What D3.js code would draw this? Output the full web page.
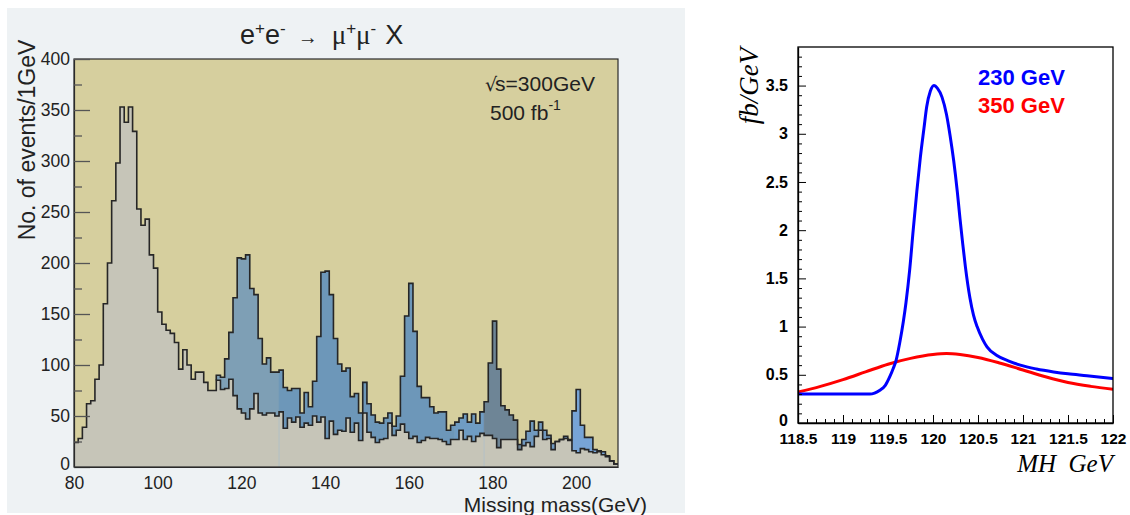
<!DOCTYPE html>
<html><head><meta charset="utf-8">
<script src="https://cdn.jsdelivr.net/npm/d3@7"></script>
<style>body{margin:0;background:#fff}svg{display:block}</style>
</head><body><svg id="c" width="1130" height="515" font-family="Liberation Sans, Arial, sans-serif"></svg>
<script>
// ---------- DATA ----------
// Left: missing-mass histogram, 1 GeV bins starting at 80 GeV
const massStart = 80;
const background = [
 24, 28, 39, 62, 65, 86,100,160,200,261,
298,353,338,353,329,253,237,243,208,195,
152,140,134,131,122, 96,115,100, 86, 93,
 93, 83, 75, 75, 85, 76, 77, 86, 70, 57,
 53, 47, 57, 72, 53, 51, 53, 53, 50, 54,
 38, 48, 44, 49, 39, 43, 41, 50, 44, 49,
 28, 45, 32, 36, 35, 48, 34, 43, 26, 53,
 34, 29, 24, 27, 28, 43, 31, 36, 42, 34,
 28, 30, 24, 26, 29, 28, 28, 27, 25, 22,
 27, 27, 36, 27, 30, 25, 30, 33, 31, 31,
 28, 19, 27, 27, 27, 27, 17, 21, 24, 20,
 30, 36, 27, 28, 17, 25, 27, 28, 26, 16,
 14, 18, 17, 15, 14, 15, 12, 10,  6,  3];
const signalStart = 114;
const signalPlusBkg = [
 90, 88,106,132,166,205,
204,208,175,169,126,101,107, 93, 93, 95,
 78, 75, 77, 77, 53, 73, 59, 84,128,191,
192,169,126,101, 94, 97, 69, 72, 53, 83,
 62, 51, 44, 43, 48, 53, 40, 50, 89,148,
180,133, 79, 68, 68, 59, 53, 54, 54, 36,
 41, 44, 48, 52, 44, 52, 43, 54, 64,102,
143, 96, 60, 56, 51, 46, 22, 27, 35, 45,
 36, 44, 36, 31, 23, 25, 27, 30, 27, 55,
 76, 41, 29, 29, 17, 16, 15, 11,  6,  3];
const seamEdges = [129, 178];
const massTicks = [80, 100, 120, 140, 160, 180, 200];
const eventTicks = [0, 50, 100, 150, 200, 250, 300, 350, 400];
const eventMinor = [25, 75, 125, 175, 225, 275, 325, 375];

// Right: lineshape vs MH
const mhTicks = [118.5, 119, 119.5, 120, 120.5, 121, 121.5, 122];
const fbTicks = [0, 0.5, 1, 1.5, 2, 2.5, 3, 3.5];
const curve230 = [
 [118.5,0.30],[119.0,0.30],[119.3,0.30],[119.35,0.31],[119.41,0.34],[119.47,0.39],
 [119.52,0.48],[119.56,0.57],[119.59,0.65],[119.63,0.83],[119.67,1.05],[119.70,1.25],
 [119.74,1.58],[119.78,2.0],[119.82,2.4],[119.86,2.76],[119.90,3.06],[119.93,3.28],
 [119.97,3.44],[120.01,3.5],[120.05,3.47],[120.10,3.38],[120.15,3.2],[120.19,2.98],
 [120.23,2.72],[120.27,2.4],[120.30,2.12],[120.33,1.86],[120.36,1.62],[120.41,1.3],
 [120.45,1.12],[120.49,1.0],[120.55,0.87],[120.60,0.79],[120.71,0.70],[120.85,0.64],
 [120.97,0.60],[121.15,0.56],[121.34,0.53],[121.5,0.51],[121.71,0.49],[122.0,0.46]];
const curve350 = [
 [118.5,0.32],[118.75,0.38],[119.0,0.45],[119.25,0.53],[119.5,0.61],[119.75,0.67],
 [120.0,0.71],[120.15,0.72],[120.3,0.71],[120.5,0.68],[120.75,0.62],[121.0,0.55],
 [121.25,0.48],[121.5,0.42],[121.75,0.38],[122.0,0.35]];
const legendLabels = ["230 GeV", "350 GeV"];

// ---------- DRAW ----------
const SANS = "Liberation Sans, Arial, sans-serif";
const SERIF = "Liberation Serif, Times New Roman, serif";
const svg = d3.select("#c");
svg.append("rect").attr("width",1130).attr("height",515).attr("fill","#fff");

// ===== Left panel =====
svg.append("rect").attr("x",7).attr("y",8).attr("width",678).attr("height",505).attr("fill","#eef2f4");
const xL = d3.scaleLinear().domain([80,210]).range([74,618]);
const yL = d3.scaleLinear().domain([0,400]).range([467,59]);
svg.append("rect").attr("x",xL(80)).attr("y",yL(400)).attr("width",xL(210)-xL(80)).attr("height",yL(0)-yL(400)).attr("fill","#d6cf9e");

const bkgPts = background.map((v,i)=>[massStart+i, v]);
bkgPts.push([massStart+background.length, background[background.length-1]]);
svg.append("path").datum(bkgPts)
  .attr("d", d3.area().curve(d3.curveStepAfter).x(d=>xL(d[0])).y0(yL(0)).y1(d=>yL(d[1])))
  .attr("fill","#c6c5b8");

seamEdges.forEach(m=>{
  svg.append("line").attr("x1",xL(m)).attr("x2",xL(m)).attr("y1",yL(0)).attr("y2",yL(background[m-massStart]))
    .attr("stroke","#b3c0c6").attr("stroke-width",1);
});

const sigColor = d3.scaleThreshold().domain([129,171,178,187,197])
  .range(["#7e9fb5","#6d97b9","#6f9cc3","#6e8596","#7199bf","#77a4d6"]);
const sig = signalPlusBkg.map((v,i)=>({m:signalStart+i, top:v, bot:background[signalStart+i-massStart]}));
const groups = d3.groups(sig, d=>sigColor(d.m));
groups.forEach(([col, arr])=>{
  const pts = arr.slice();
  const last = arr[arr.length-1];
  pts.push({m:last.m+1, top:last.top, bot:last.bot});
  svg.append("path").datum(pts)
    .attr("d", d3.area().curve(d3.curveStepAfter).x(d=>xL(d.m)).y0(d=>yL(d.bot)).y1(d=>yL(d.top)))
    .attr("fill", col).attr("stroke", col).attr("stroke-width",0.5);
});

const stepLine = d3.line().curve(d3.curveStepAfter).x(d=>xL(d[0])).y(d=>yL(d[1]));
svg.append("path").datum(bkgPts).attr("d", stepLine).attr("fill","none").attr("stroke","#262626").attr("stroke-width",1.6);
const totPts = [[signalStart, background[signalStart-massStart]]].concat(signalPlusBkg.map((v,i)=>[signalStart+i, v]));
totPts.push([signalStart+signalPlusBkg.length, signalPlusBkg[signalPlusBkg.length-1]]);
svg.append("path").datum(totPts).attr("d", stepLine).attr("fill","none").attr("stroke","#262626").attr("stroke-width",1.6);

svg.append("rect").attr("x",xL(80)).attr("y",yL(400)).attr("width",xL(210)-xL(80)).attr("height",yL(0)-yL(400))
  .attr("fill","none").attr("stroke","#2a2a2a").attr("stroke-width",1.2);

const yAxL = svg.append("g").attr("transform",`translate(${xL(80)},0)`)
  .call(d3.axisLeft(yL).tickValues(eventTicks).tickSize(-16).tickSizeOuter(0).tickPadding(4).tickFormat(d3.format("d")));
yAxL.selectAll(".tick line").attr("stroke","#555").attr("stroke-width",1.3);
yAxL.select(".domain").attr("stroke","#2a2a2a").attr("stroke-width",1.2);
yAxL.selectAll("text").attr("font-size",17.5).attr("fill","#222").attr("font-family",SANS);
yAxL.selectAll(".tick").filter(d=>d===0).select("text").attr("y",-3);
const yMinL = svg.append("g").attr("transform",`translate(${xL(80)},0)`)
  .call(d3.axisLeft(yL).tickValues(eventMinor).tickSize(-8).tickSizeOuter(0).tickFormat(""));
yMinL.selectAll(".tick line").attr("stroke","#555").attr("stroke-width",1.3);
yMinL.select(".domain").remove();

const xAxL = svg.append("g").attr("transform",`translate(0,${yL(0)})`)
  .call(d3.axisBottom(xL).tickValues(massTicks).tickSize(0).tickSizeOuter(0).tickPadding(10));
xAxL.select(".domain").attr("stroke","#2a2a2a").attr("stroke-width",1.2);
xAxL.selectAll("text").attr("font-size",17.5).attr("fill","#222").attr("font-family",SANS);

svg.append("text").attr("transform","translate(35,140) rotate(-90)").attr("text-anchor","middle")
  .attr("font-size",23).attr("fill","#222").text("No. of events/1GeV");
svg.append("text").attr("x",647).attr("y",512).attr("text-anchor","end")
  .attr("font-size",21).attr("fill","#222").text("Missing mass(GeV)");

// title e+e- -> mu+mu- X
const title = svg.append("text").attr("x",240).attr("y",44).attr("font-size",27).attr("fill","#222");
title.append("tspan").text("e");
title.append("tspan").attr("dy",-10).attr("font-size",17).text("+");
title.append("tspan").attr("dy",10).text("e");
title.append("tspan").attr("dy",-10).attr("font-size",17).text("-");
title.append("tspan").attr("dy",10).attr("font-size",20).attr("dx",12).text("→");
title.append("tspan").attr("dx",14).attr("font-family",SERIF).text("μ");
title.append("tspan").attr("dy",-10).attr("font-size",17).text("+");
title.append("tspan").attr("dy",10).attr("font-family",SERIF).text("μ");
title.append("tspan").attr("dy",-10).attr("font-size",17).text("-");
title.append("tspan").attr("dy",10).attr("dx",9).text("X");

const ann = svg.append("text").attr("x",485).attr("y",91).attr("font-size",21).attr("fill","#222");
ann.append("tspan").attr("font-family","DejaVu Sans, sans-serif").attr("font-size",19).text("√");
ann.append("tspan").attr("dx",-2).text("s=300GeV");
const ann2 = svg.append("text").attr("x",490).attr("y",120).attr("font-size",21).attr("fill","#222");
ann2.append("tspan").text("500 fb");
ann2.append("tspan").attr("dy",-10).attr("font-size",14).text("-1");

// ===== Right panel =====
const xR = d3.scaleLinear().domain([118.5,122]).range([798,1113]);
const yR = d3.scaleLinear().domain([0,3.9]).range([423,47]);
svg.append("defs").append("clipPath").attr("id","clipR").append("rect")
  .attr("x",xR(118.5)).attr("y",yR(3.9)).attr("width",xR(122)-xR(118.5)).attr("height",yR(0)-yR(3.9));

const line = d3.line().curve(d3.curveMonotoneX).x(d=>xR(d[0])).y(d=>yR(d[1]));
const curves = svg.append("g").attr("clip-path","url(#clipR)");
curves.append("path").datum(curve350).attr("d",line).attr("fill","none").attr("stroke","#ff0000").attr("stroke-width",3);
curves.append("path").datum(curve230).attr("d",line).attr("fill","none").attr("stroke","#0000ff").attr("stroke-width",3);

svg.append("rect").attr("x",xR(118.5)).attr("y",yR(3.9)).attr("width",xR(122)-xR(118.5)).attr("height",yR(0)-yR(3.9))
  .attr("fill","none").attr("stroke","#000").attr("stroke-width",1.3);

const fbMinor = d3.range(0, 39).map(i=>i/10).filter(v=>Math.abs(v*2-Math.round(v*2))>1e-6);
const mhMinor = d3.range(0, 36).map(i=>118.5+i/10).filter(v=>Math.abs(v*2-Math.round(v*2))>1e-6);

const yAxR = svg.append("g").attr("transform",`translate(${xR(118.5)},0)`)
  .call(d3.axisLeft(yR).tickValues(fbTicks).tickSize(-8).tickSizeOuter(0).tickPadding(10).tickFormat(d=>d3.format("~g")(d)));
yAxR.selectAll("text").attr("font-size",16).attr("font-weight","bold").attr("fill","#000").attr("font-family",SANS);
yAxR.selectAll(".tick").filter(d=>d===0).select("text").attr("y",-3);
yAxR.select(".domain").attr("stroke","#000").attr("stroke-width",1.3);
yAxR.selectAll(".tick line").attr("stroke","#000");
const yMinR = svg.append("g").attr("transform",`translate(${xR(118.5)},0)`)
  .call(d3.axisLeft(yR).tickValues(fbMinor).tickSize(-4).tickSizeOuter(0).tickFormat(""));
yMinR.select(".domain").remove(); yMinR.selectAll(".tick line").attr("stroke","#000");

const xAxR = svg.append("g").attr("transform",`translate(0,${yR(0)})`)
  .call(d3.axisBottom(xR).tickValues(mhTicks).tickSize(-8).tickSizeOuter(0).tickPadding(10).tickFormat(d=>d3.format("~g")(d)));
xAxR.selectAll("text").attr("font-size",15.5).attr("font-weight","bold").attr("fill","#000").attr("font-family",SANS);
xAxR.select(".domain").attr("stroke","#000").attr("stroke-width",1.3);
xAxR.selectAll(".tick line").attr("stroke","#000");
const xMinR = svg.append("g").attr("transform",`translate(0,${yR(0)})`)
  .call(d3.axisBottom(xR).tickValues(mhMinor).tickSize(-4).tickSizeOuter(0).tickFormat(""));
xMinR.select(".domain").remove(); xMinR.selectAll(".tick line").attr("stroke","#000");

svg.append("text").attr("transform","translate(758,86) rotate(-90)").attr("text-anchor","middle")
  .attr("font-family",SERIF).attr("font-style","italic").attr("font-size",27).attr("fill","#000")
  .text("fb/GeV");
svg.append("text").attr("x",1113).attr("y",472).attr("text-anchor","end")
  .style("white-space","pre")
  .attr("font-family",SERIF).attr("font-style","italic").attr("font-size",25).attr("fill","#000")
  .text("MH  GeV");

const legCol = ["#0000ff","#ff0000"];
legendLabels.forEach((t,i)=>{
  svg.append("text").attr("x",978).attr("y",85+i*28).attr("font-size",22).attr("font-weight","bold")
    .attr("fill",legCol[i]).text(t);
});
</script></body></html>
